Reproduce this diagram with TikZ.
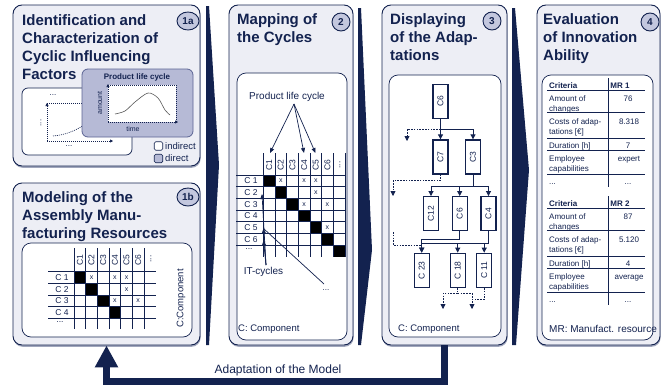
\documentclass[tikz,border=0pt]{standalone}
\usepackage{fontspec}
\setmainfont{Liberation Sans}
\usetikzlibrary{arrows.meta,shapes.geometric,shadows}
\definecolor{navy}{HTML}{13224F}
\definecolor{boxfill}{HTML}{EDEEF5}
\definecolor{numfill}{HTML}{C3C7DE}
\definecolor{plcfill}{HTML}{B6BAD6}
\definecolor{plcline}{HTML}{5C6494}
\definecolor{shadowc}{HTML}{A0A6BC}
\newcommand{\myfs}[2]{\fontsize{#1}{#2}\selectfont}
\begin{document}
\begin{tikzpicture}[x=1pt,y=-1pt,
  every node/.style={text=navy, inner sep=0pt},
  bigbox/.style={draw=navy, fill=boxfill, line width=0.9pt, rounded corners=9pt,
    drop shadow={shadow xshift=0.6pt, shadow yshift=-1.8pt, fill=shadowc, opacity=1}},
  innerbox/.style={draw=navy, fill=white, line width=0.7pt, rounded corners=9pt},
  ttl/.style={anchor=north west, align=left, font=\bfseries\myfs{15}{18.3}},
  num/.style={ellipse, draw=navy, fill=numfill, line width=0.9pt, font=\bfseries\myfs{10}{12}},
  gridl/.style={draw=navy, line width=0.9pt},
  lbl/.style={font=\myfs{8.5}{10}},
  xm/.style={font=\myfs{7}{8}},
  arr/.style={draw=navy, line width=0.7pt, -{Triangle[length=5pt,width=4pt]}},
  fl/.style={draw=navy, line width=0.9pt, -{Triangle[length=5pt,width=5pt]}},
  fld/.style={draw=navy, line width=0.8pt, dash pattern=on 1.6pt off 1.2pt, -{Triangle[length=5pt,width=5pt]}},
  fc/.style={draw=navy, line width=1.3pt, fill=white, minimum width=15pt, minimum height=34pt, font=\myfs{8.5}{10}},
  dotl/.style={draw=navy, line width=0.6pt, dash pattern=on 1pt off 1pt},
  tb/.style={font=\myfs{8}{10}, anchor=base west},
  tv/.style={font=\myfs{8}{10}, anchor=base},
  tl/.style={draw=navy, line width=0.8pt}
]
\useasboundingbox (0,0) rectangle (666,388);

% chevrons
\fill[navy] (206,6) -- (209,6) -- (219,165) -- (209,345) -- (206,345) -- cycle;
\fill[navy] (358,8) -- (361,8) -- (372,250) -- (361,345) -- (358,345) -- cycle;
\fill[navy] (512,8) -- (515,8) -- (529,170) -- (516,345) -- (512,345) -- cycle;

% big boxes
\node[bigbox, minimum width=187pt, minimum height=161pt] (b1a) at (106.5,85.5) {};
\node[bigbox, minimum width=187pt, minimum height=162pt] (b1b) at (106.5,264) {};
\node[bigbox, minimum width=124pt, minimum height=340pt] (b2) at (291,175) {};
\node[bigbox, minimum width=125pt, minimum height=340pt] (b3) at (444.5,175) {};
\node[bigbox, minimum width=123pt, minimum height=340pt] (b4) at (598.5,175) {};

% feedback arrow
\draw[navy, line width=6.5pt, line join=miter, -{Triangle[length=22pt,width=22pt]}]
  (b3.south) -- ++(0,36) -| (b1b.south);
\node[font=\myfs{12}{14}] (fbl) at (278,370) {Adaptation of the Model};

% titles
\node[ttl] (t1a) at (22,14) {Identification and\\Characterization of\\Cyclic Influencing\\Factors};
\node[ttl] (t1b) at (22,191) {Modeling of the\\Assembly Manu-\\facturing Resources};
\node[ttl] (t2) at (237,13) {Mapping of\\the Cycles};
\node[ttl] (t3) at (390,13) {Displaying\\of the Adap-\\tations};
\node[ttl] (t4) at (543,13) {Evaluation\\of Innovation\\Ability};

\node[num, minimum width=22pt, minimum height=18pt] (n1a) at (188,21) {1a};
\node[num, minimum width=22pt, minimum height=18pt] (n1b) at (188,197) {1b};
\node[num, minimum width=18pt, minimum height=18pt] (n2) at (341,22) {2};
\node[num, minimum width=18pt, minimum height=18pt] (n3) at (492,21) {3};
\node[num, minimum width=18pt, minimum height=18pt] (n4) at (650,22) {4};

% ---------- box 1a ----------
\node[innerbox, rounded corners=6pt, minimum width=110pt, minimum height=67pt] (i1a) at (77,121.5) {};
\draw[dotl, -{Triangle[length=3pt,width=3pt]}] (47,141) -- (47,103);
\draw[dotl, -{Triangle[length=3pt,width=3pt]}] (47,141) -- (113,141);
\draw[dotl] (47,103) -- (82,103);
\draw[dotl] (53,136) .. controls (65,135) and (75,131) .. (84,125);
\node[font=\myfs{8}{10}] (d1t) at (53,95) {...};
\node[font=\myfs{8}{10}, rotate=90] (d1l) at (41,123) {...};
\node[font=\myfs{8}{10}] (d1b) at (69,146) {...};

\node[draw=plcline, fill=plcfill, line width=0.8pt, rounded corners=6pt, minimum width=111pt, minimum height=68pt] (plc) at (137.5,103) {};
\node[font=\bfseries\myfs{8}{10}] (plct) at (137,77) {Product life cycle};
\fill[white] (108,85) rectangle (176,122);
\draw[dotl, -{Triangle[length=3pt,width=3pt]}] (108,122) -- (108,84);
\draw[dotl, -{Triangle[length=3pt,width=3pt]}] (108,122) -- (178,122);
\draw[dotl] (108,85) -- (176,85) -- (176,122);
\draw[black!65, line width=0.6pt] plot[smooth] coordinates {(115,114) (125,111) (135,102) (148,93) (158,98) (165,110) (170,115)};
\node[font=\myfs{7}{8}, rotate=90] (amt) at (100,103) {amount};
\node[font=\myfs{7}{8}] (tim) at (133,128.5) {time};

\node[draw=navy, fill=white, line width=0.7pt, rounded corners=1.5pt, minimum size=8.5pt] (lg1) at (158.5,146) {};
\node[draw=navy, fill=plcfill, line width=0.7pt, rounded corners=1.5pt, minimum size=8.5pt] (lg2) at (158.5,158.5) {};
\node[font=\myfs{9.5}{11}, anchor=west] (lg1t) at (165,146) {indirect};
\node[font=\myfs{9.5}{11}, anchor=west] (lg2t) at (165,158.5) {direct};

% ---------- box 1b ----------
\node[innerbox, minimum width=170pt, minimum height=94pt] (i1b) at (107,290) {};
\def\cs{11.667}
\foreach \k in {0,...,3} \fill[black] ({74+\k*\cs},{271.7+\k*\cs}) rectangle ++(\cs,\cs);
\foreach \k in {0,...,6} \draw[gridl] ({74+\k*\cs},248) -- ({74+\k*\cs},329);
\foreach \k in {0,...,4} \draw[gridl] (48,{271.7+\k*\cs}) -- (156,{271.7+\k*\cs});
\foreach \k in {1,...,6} \node[lbl, rotate=90] (m1c\k) at ({74+(\k-0.5)*\cs},260) {C\k};
\node[lbl, rotate=90] (m1cd) at (151,259) {...};
\foreach \k in {1,...,4} \node[lbl] (m1r\k) at (62,{271.7+(\k-0.5)*\cs}) {C \k};
\node[lbl] (m1rd) at (60,322) {...};
\foreach \r/\c [count=\i] in {0/1,0/3,0/4,1/4,2/3,2/5}
  \node[xm] (m1x\i) at ({74+(\c+0.5)*\cs},{271.7+(\r+0.5)*\cs}) {x};
\node[font=\myfs{9.5}{11}, rotate=90] (cc1) at (181,298.5) {C:Component};

% ---------- box 2 ----------
\node[innerbox, minimum width=110pt, minimum height=267pt] (i2) at (292,206.5) {};
\foreach \k in {0,...,6} \fill[black] ({263.3+\k*\cs},{175+\k*\cs}) rectangle ++(\cs,\cs);
\foreach \k in {0,...,7} \draw[gridl] ({263.3+\k*\cs},153) -- ({263.3+\k*\cs},257);
\foreach \k in {0,...,6} \draw[gridl] (236,{175+\k*\cs}) -- (346,{175+\k*\cs});
\foreach \k in {1,...,6} \node[lbl, rotate=90] (m2c\k) at ({263.3+(\k-0.5)*\cs},165) {C\k};
\node[lbl, rotate=90] (m2cd) at (340,165) {...};
\foreach \k in {1,...,6} \node[lbl] (m2r\k) at (251,{175+(\k-0.5)*\cs}) {C \k};
\node[lbl] (m2rd) at (249,249) {...};
\foreach \r/\c [count=\i] in {0/1,0/3,0/4,1/4,2/3,2/5,4/5}
  \node[xm] (m2x\i) at ({263.3+(\c+0.5)*\cs},{175+(\r+0.5)*\cs}) {x};
\node[font=\myfs{10}{12}] (plc2) at (287,97) {Product life cycle};
\coordinate (ps) at (294,104);
\coordinate (pa1) at (270,153);
\coordinate (pa4) at (304,153);
\coordinate (pa5) at (315.5,153);
\draw[arr] (ps) -- (pa1);
\draw[arr] (ps) -- (pa4);
\draw[arr] (ps) -- (pa5);
\node[font=\myfs{10}{12}] (itc) at (263.5,272) {IT-cycles};
\coordinate (its) at (266,265);
\coordinate (ia2) at (262,194);
\coordinate (ia5) at (263.5,228.5);
\coordinate (ia6) at (263.5,240.5);
\draw[arr] (its) -- (ia2);
\draw[arr] (its) -- (ia5);
\draw[arr] (its) -- (ia6);
\node[font=\myfs{8}{10}] (itd) at (326,290) {...};
\coordinate (itl) at (324,284);
\draw[navy, line width=0.7pt] (itl) -- (ia5);
\node[font=\myfs{9.5}{11}, anchor=base west] (cc2) at (238,331) {C: Component};

% ---------- box 3 ----------
\node[innerbox, minimum width=112pt, minimum height=262pt] (i3) at (445,206) {};
\node[fc] (f6) at (440.5,101.5) {\rotatebox{90}{C6}};
\node[fc] (f7) at (440.5,157) {\rotatebox{90}{C7}};
\node[fc] (f3) at (473,157) {\rotatebox{90}{C3}};
\node[fc] (f12) at (431,213.7) {\rotatebox{90}{C12}};
\node[fc] (f6b) at (459.7,213.7) {\rotatebox{90}{C6}};
\node[fc] (f4) at (488.5,213.7) {\rotatebox{90}{C4}};
\node[fc] (f23) at (421.7,270.3) {\rotatebox{90}{C 23}};
\node[fc] (f18) at (457.7,270.3) {\rotatebox{90}{C 18}};
\node[fc] (f11) at (484.2,270.3) {\rotatebox{90}{C 11}};
\coordinate (dd1) at (407,141);
\coordinate (dd2) at (393,196);
\coordinate (dd3) at (393,232);
\coordinate (dd3a) at (421.7,245);
\coordinate (o1) at (443,309);
\coordinate (o2) at (472,309);
\draw[fl] (f6.south) -- (f7.north);
\draw[fl] (f6.south) -- ++(0,10) -| (f3.north);
\draw[fld] (f6.south) ++(0,10) -| (dd1);
\draw[fld] (f7.south) -- ++(0,6) -| (dd2);
\draw[fl] (f3.south) -- ++(0,12) -| (f12.north);
\draw[fl] (f3.south) -- ++(0,12) -| (f6b.north);
\draw[fl] (f3.south) -- ++(0,12) -| (f4.north);
\draw[fl] (f6b.south) -- ++(0,7.6) -| (f23.north);
\draw[fl] (f4.south) -- ++(0,12) -| (f23.north);
\draw[fl] (f4.south) -- ++(0,12) -| (f18.north);
\draw[fl] (f4.south) -- ++(0,12) -| (f11.north);
\draw[fld, -] (dd3) |- (dd3a);
\draw[fld] (f18.south) -- ++(0,5.5) -| (o1);
\draw[fld] (f18.south) -- ++(0,5.5) -| (o2);
\draw[fld, -] (f11.south) -- ++(0,11.5) -| (o2);
\node[font=\myfs{9.5}{11}, anchor=base west] (cc3) at (398,331) {C: Component};

% ---------- box 4 ----------
\node[innerbox, minimum width=111pt, minimum height=265pt] (i4) at (597.5,207.5) {};
\foreach \o/\m/\va/\vb/\vc/\vd in {0/1/76/8.318/7/expert, 118/2/87/5.120/4/average}{
  \node[tb, font=\bfseries\myfs{8}{10}] (tc\m) at (549,{88+\o}) {Criteria};
  \node[tv, font=\bfseries\myfs{8}{10}] (tm\m) at (620,{88+\o}) {MR \m};
  \node[tb] (ta\m) at (549,{101.3+\o}) {Amount of};
  \node[tb] (tb\m) at (549,{111.3+\o}) {changes};
  \node[tv] (va\m) at (628,{101.3+\o}) {\va};
  \node[tb] (tcs\m) at (549,{124.7+\o}) {Costs of adap-};
  \node[tb] (tct\m) at (549,{134.7+\o}) {tations [€]};
  \node[tv] (vb\m) at (629,{124.7+\o}) {\vb};
  \node[tb] (td\m) at (549,{148.7+\o}) {Duration [h]};
  \node[tv] (vc\m) at (628,{148.7+\o}) {\vc};
  \node[tb] (te\m) at (549,{161.3+\o}) {Employee};
  \node[tb] (tf\m) at (549,{171.3+\o}) {capabilities};
  \node[tv] (vd\m) at (629,{161.3+\o}) {\vd};
  \node[tb] (tg\m) at (549,{184+\o}) {...};
  \node[tv] (vg\m) at (628,{184+\o}) {...};
  \draw[tl, line width=1.1pt] (547,{90.7+\o}) -- (645,{90.7+\o});
  \draw[tl] (547,{112.7+\o}) -- (645,{112.7+\o});
  \draw[tl] (547,{138+\o}) -- (645,{138+\o});
  \draw[tl] (547,{150.7+\o}) -- (645,{150.7+\o});
  \draw[tl] (547,{174+\o}) -- (645,{174+\o});
  \draw[tl, line width=1.1pt] (608.3,{78+\o}) -- (608.3,{187+\o});
}
\node[font=\myfs{10}{12}, anchor=base west] (mrl) at (549,332) {MR: Manufact. resource};

\end{tikzpicture}
\end{document}
